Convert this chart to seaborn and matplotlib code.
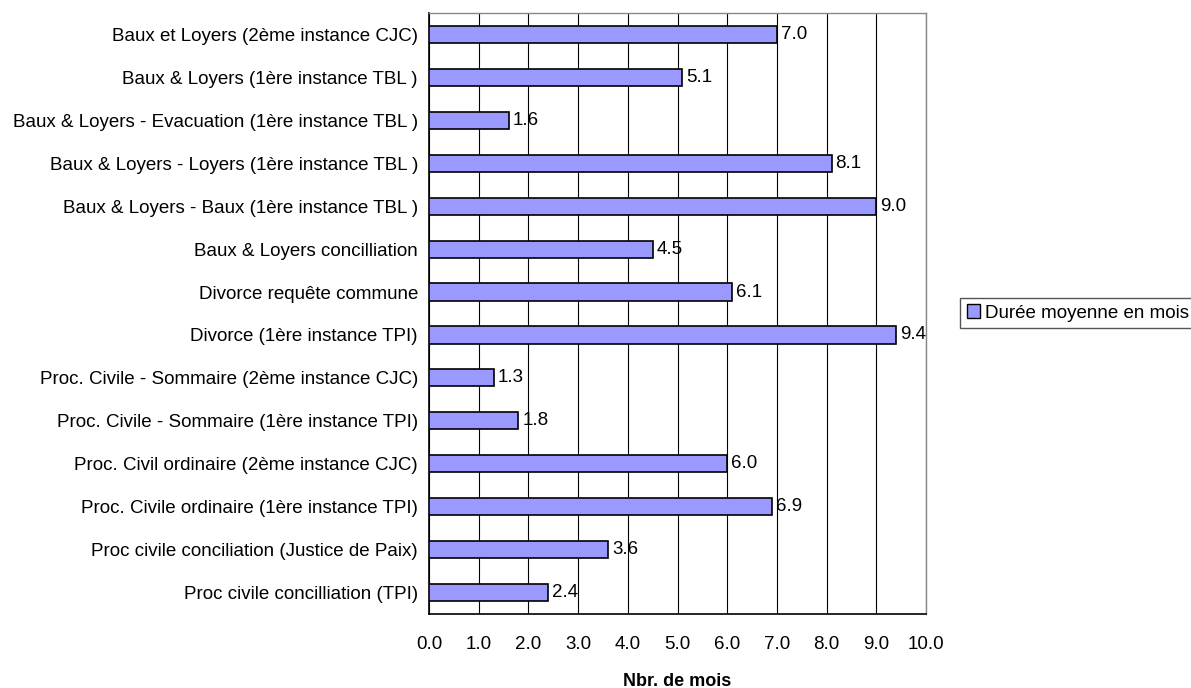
import pandas as pd
import matplotlib.pyplot as plt
import seaborn as sns
from matplotlib.patches import Patch

# Categories (top to bottom) and average durations in months
categories = [
    "Baux et Loyers (2ème instance CJC)",
    "Baux & Loyers (1ère instance TBL )",
    "Baux & Loyers - Evacuation (1ère instance TBL )",
    "Baux & Loyers - Loyers (1ère instance TBL )",
    "Baux & Loyers - Baux (1ère instance TBL )",
    "Baux & Loyers concilliation",
    "Divorce requête commune",
    "Divorce (1ère instance TPI)",
    "Proc. Civile - Sommaire (2ème instance CJC)",
    "Proc. Civile - Sommaire (1ère instance TPI)",
    "Proc. Civil ordinaire (2ème instance CJC)",
    "Proc. Civile ordinaire (1ère instance TPI)",
    "Proc civile conciliation (Justice de Paix)",
    "Proc civile concilliation (TPI)",
]
durations = [7.0, 5.1, 1.6, 8.1, 9.0, 4.5, 6.1, 9.4, 1.3, 1.8, 6.0, 6.9, 3.6, 2.4]
x_ticks = [0, 1, 2, 3, 4, 5, 6, 7, 8, 9, 10]

df = pd.DataFrame({"Catégorie": categories, "Durée": durations})

sns.set_style("white")
plt.rcParams["font.family"] = ["Liberation Sans", "DejaVu Sans"]
plt.rcParams["text.color"] = "black"
plt.rcParams["xtick.color"] = "black"
plt.rcParams["ytick.color"] = "black"
plt.rcParams["axes.labelcolor"] = "black"
fs = 13.5

fig = plt.figure(figsize=(11.91, 6.88), dpi=100)
ax = fig.add_axes([429 / 1191, 1 - 614 / 688, (926 - 429) / 1191, (614 - 13) / 688])

bar_color = "#9999FF"
sns.barplot(data=df, x="Durée", y="Catégorie", orient="h", color=bar_color,
            edgecolor="black", linewidth=1.2, width=0.4, saturation=1, ax=ax, zorder=3)

# value labels
for i, v in enumerate(durations):
    ax.text(v + 0.08, i, f"{v:.1f}", va="center", ha="left", fontsize=fs, zorder=4)

ax.set_xlim(0, 10)
ax.set_ylim(len(categories) - 0.5, -0.5)
ax.set_xticks(x_ticks)
ax.set_xticklabels([f"{t:.1f}" for t in x_ticks], fontsize=fs)
ax.tick_params(axis="y", labelsize=fs, length=0, pad=8)
ax.tick_params(axis="x", length=5, width=1, direction="out", pad=11)

# category separator ticks on y axis
ax.set_yticks([i + 0.5 for i in range(-1, len(categories))], minor=True)
ax.tick_params(axis="y", which="minor", length=5, width=1, direction="out")

ax.xaxis.grid(True, color="black", linewidth=0.8)
ax.set_axisbelow(True)
ax.set_ylabel("")
ax.set_xlabel("Nbr. de mois", fontsize=fs - 0.5, fontweight="bold", labelpad=14)

for side in ["top", "right"]:
    ax.spines[side].set_color("#888888")
    ax.spines[side].set_linewidth(1)
for side in ["left", "bottom"]:
    ax.spines[side].set_color("black")
    ax.spines[side].set_linewidth(1.2)

handle = Patch(facecolor=bar_color, edgecolor="black", linewidth=1)
fig.legend([handle], ["Durée moyenne en mois"], loc="center left",
           bbox_to_anchor=(960 / 1191, 1 - 313 / 688), fontsize=fs,
           frameon=True, fancybox=False, edgecolor="#555555", framealpha=1,
           handlelength=0.7, handleheight=0.7, handletextpad=0.3, borderpad=0.35,
           borderaxespad=0)

fig.savefig("out.png", dpi=100)
